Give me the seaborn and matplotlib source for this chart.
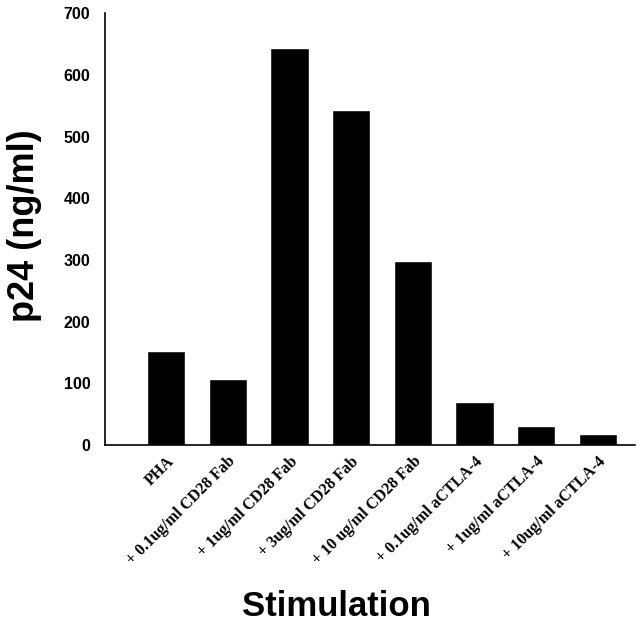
import pandas as pd
import numpy as np
import matplotlib
matplotlib.use("Agg")
import matplotlib.pyplot as plt
import seaborn as sns

# Data
conditions = ['PHA', '+ 0.1ug/ml CD28 Fab', '+ 1ug/ml CD28 Fab', '+ 3ug/ml CD28 Fab',
              '+ 10 ug/ml CD28 Fab', '+ 0.1ug/ml aCTLA-4', '+ 1ug/ml aCTLA-4',
              '+ 10ug/ml aCTLA-4']
p24 = [152, 107, 643, 543, 298, 70, 31, 18]

df = pd.DataFrame({'condition': conditions, 'p24': p24})

sns.set_theme(style="white")
plt.rcParams['font.family'] = ['Liberation Sans', 'DejaVu Sans']
plt.rcParams.update({'text.color': 'black', 'axes.labelcolor': 'black',
                     'xtick.color': 'black', 'ytick.color': 'black'})

fig = plt.figure(figsize=(6.4, 6.27), dpi=100)
ax = fig.add_axes([0.164, 0.290, 0.828, 0.689])

sns.barplot(data=df, x='condition', y='p24', color='black', width=0.62,
            saturation=1, ax=ax)

ax.set_ylim(0, 700)
ax.set_xlim(-0.99, 7.6)
ax.set_yticks(range(0, 701, 100))
ax.tick_params(axis='y', direction='out', length=6, width=1, color='black',
               labelsize=11.5, pad=4.5)
ax.tick_params(axis='x', length=0, pad=6)
for lbl in ax.get_yticklabels():
    lbl.set_fontweight('bold')

ax.set_xticks(range(len(conditions)))
ax.set_xticklabels(conditions, rotation=45, ha='right', rotation_mode='anchor',
                   fontsize=11.5, fontweight='bold', family='Liberation Serif')

sns.despine(ax=ax, top=True, right=True)
for s in ['left', 'bottom']:
    ax.spines[s].set_color('black')
    ax.spines[s].set_linewidth(1.2)

ax.set_ylabel('p24 (ng/ml)', fontsize=26, fontweight='bold')
ax.yaxis.set_label_coords(-0.119, 0.507)
ax.set_xlabel('Stimulation', fontsize=25, fontweight='bold')
ax.xaxis.set_label_coords(0.436, -0.335)

plt.savefig("out.png", dpi=100)
